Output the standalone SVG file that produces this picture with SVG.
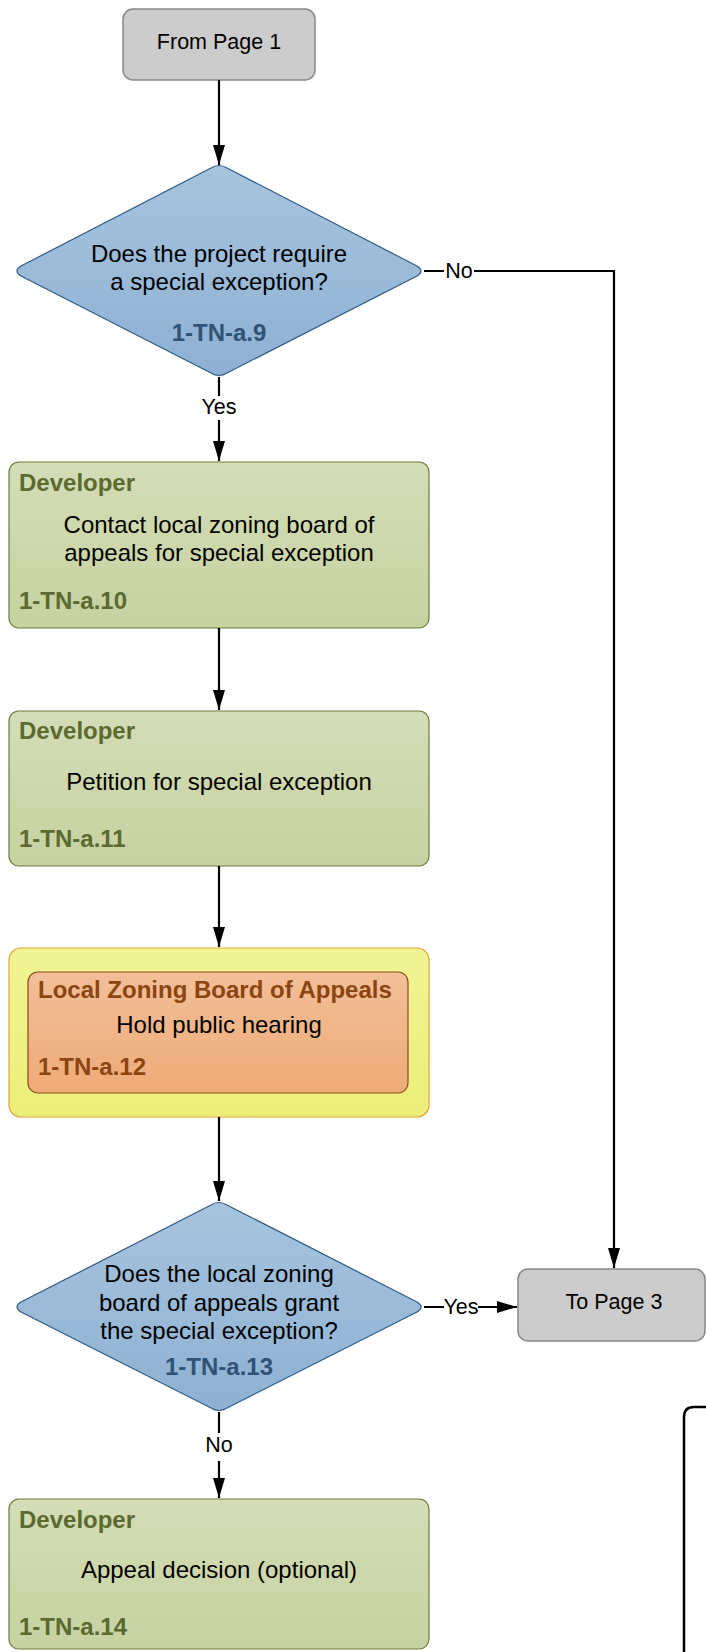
<svg xmlns="http://www.w3.org/2000/svg" width="706" height="1652" viewBox="0 0 706 1652">
<defs>
<linearGradient id="gBlue" x1="0" y1="0" x2="0" y2="1"><stop offset="0" stop-color="#a7c4de"/><stop offset="1" stop-color="#8eb1d3"/></linearGradient>
<linearGradient id="gGreen" x1="0" y1="0" x2="0" y2="1"><stop offset="0" stop-color="#d4ddb6"/><stop offset="1" stop-color="#c7d2a1"/></linearGradient>
<linearGradient id="gYellow" x1="0" y1="0" x2="0" y2="1"><stop offset="0" stop-color="#f1f494"/><stop offset="1" stop-color="#ebef78"/></linearGradient>
<linearGradient id="gOrange" x1="0" y1="0" x2="0" y2="1"><stop offset="0" stop-color="#f3bf98"/><stop offset="1" stop-color="#eeab77"/></linearGradient>
<marker id="arr" markerWidth="20" markerHeight="12" refX="20" refY="6" orient="auto" markerUnits="userSpaceOnUse" viewBox="0 0 20 12">
<path d="M0,0 L20,6 L0,12 Z" fill="#000"/>
</marker>
</defs>
<style>
text{font-family:"Liberation Sans",Arial,sans-serif;}
.t{font-size:24px;fill:#000;text-anchor:middle;}
.g{font-size:21.5px;fill:#000;text-anchor:middle;}
.lbl{font-size:21.5px;fill:#000;text-anchor:middle;}
.dcode{font-size:24px;font-weight:bold;fill:#2f5375;text-anchor:middle;}
.gr{font-size:24px;font-weight:bold;fill:#5b6a30;}
.or{font-size:24px;font-weight:bold;fill:#8b4513;}
.gray{fill:#cccccc;stroke:#888888;stroke-width:1.5;}
.dia{fill:url(#gBlue);stroke:#2d5a85;stroke-width:1.2;stroke-linejoin:round;}
.grn{fill:url(#gGreen);stroke:#6b7a3a;stroke-width:1.2;}
.conn{fill:none;stroke:#000;stroke-width:2.2;}
</style>

<g id="from-page-1">
<rect class="gray" x="123" y="9" width="192" height="71" rx="10"/>
<text class="g" x="219" y="49">From Page 1</text>
</g>

<g id="decision-9">
<path class="dia" d="M211,168 Q219,163 227,168 L417,266 Q425,271 417,276 L227,373 Q219,378 211,373 L21,276 Q13,271 21,266 Z"/>
<text class="t" x="219" y="262">Does the project require</text>
<text class="t" x="219" y="290">a special exception?</text>
<text class="dcode" x="219" y="341">1-TN-a.9</text>
</g>

<g id="step-10">
<rect class="grn" x="9" y="462" width="420" height="166" rx="10"/>
<text class="gr" x="19" y="491">Developer</text>
<text class="t" x="219" y="533">Contact local zoning board of</text>
<text class="t" x="219" y="561">appeals for special exception</text>
<text class="gr" x="19" y="609">1-TN-a.10</text>
</g>

<g id="step-11">
<rect class="grn" x="9" y="711" width="420" height="155" rx="10"/>
<text class="gr" x="19" y="739">Developer</text>
<text class="t" x="219" y="790">Petition for special exception</text>
<text class="gr" x="19" y="847">1-TN-a.11</text>
</g>

<g id="step-12">
<rect x="9" y="948" width="420" height="169" rx="12" fill="url(#gYellow)" stroke="#e8a030" stroke-width="1.2"/>
<rect x="28" y="972" width="380" height="121" rx="10" fill="url(#gOrange)" stroke="#8b4a1a" stroke-width="1.2"/>
<text class="or" x="38" y="998">Local Zoning Board of Appeals</text>
<text class="t" x="219" y="1033">Hold public hearing</text>
<text class="or" x="38" y="1075">1-TN-a.12</text>
</g>

<g id="decision-13">
<path class="dia" d="M211,1205 Q219,1200 227,1205 L417,1302 Q425,1307 417,1312 L227,1408 Q219,1413 211,1408 L21,1312 Q13,1307 21,1302 Z"/>
<text class="t" x="219" y="1282">Does the local zoning</text>
<text class="t" x="219" y="1311">board of appeals grant</text>
<text class="t" x="219" y="1339">the special exception?</text>
<text class="dcode" x="219" y="1375">1-TN-a.13</text>
</g>

<g id="to-page-3">
<rect class="gray" x="518" y="1269" width="187" height="72" rx="10"/>
<text class="g" x="614" y="1309">To Page 3</text>
</g>

<g id="step-14">
<rect class="grn" x="9" y="1499" width="420" height="150" rx="10"/>
<text class="gr" x="19" y="1528">Developer</text>
<text class="t" x="219" y="1578">Appeal decision (optional)</text>
<text class="gr" x="19" y="1635">1-TN-a.14</text>
</g>

<g id="offpage-shape">
<path d="M684,1655 L684,1417 Q684,1407 694,1407 L708,1407" fill="none" stroke="#000" stroke-width="2.5"/>
</g>

<g id="connectors">
<line class="conn" x1="219" y1="80" x2="219" y2="165" marker-end="url(#arr)"/>
<line class="conn" x1="219" y1="377" x2="219" y2="461" marker-end="url(#arr)"/>
<line class="conn" x1="219" y1="628" x2="219" y2="710" marker-end="url(#arr)"/>
<line class="conn" x1="219" y1="866" x2="219" y2="947" marker-end="url(#arr)"/>
<line class="conn" x1="219" y1="1117" x2="219" y2="1201" marker-end="url(#arr)"/>
<polyline class="conn" points="424,271 614,271 614,1268" marker-end="url(#arr)"/>
<line class="conn" x1="424" y1="1307" x2="517" y2="1307" marker-end="url(#arr)"/>
<line class="conn" x1="219" y1="1412" x2="219" y2="1498" marker-end="url(#arr)"/>
<rect x="444" y="260" width="30" height="22" fill="#fff"/>
<text class="lbl" x="459" y="278">No</text>
<rect x="201" y="396" width="36" height="24" fill="#fff"/>
<text class="lbl" x="219" y="414">Yes</text>
<rect x="444" y="1296" width="34" height="22" fill="#fff"/>
<text class="lbl" x="461" y="1314">Yes</text>
<rect x="205" y="1433" width="28" height="28" fill="#fff"/>
<text class="lbl" x="219" y="1452">No</text>
</g>
</svg>
